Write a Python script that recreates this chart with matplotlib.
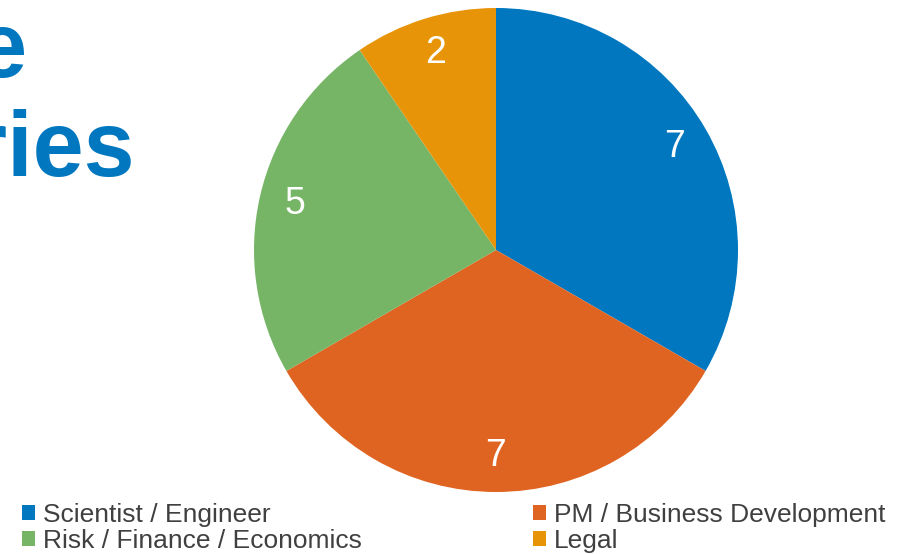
import matplotlib
matplotlib.use("Agg")
import matplotlib.pyplot as plt
from matplotlib.patches import Patch

plt.rcParams['font.family'] = ['Liberation Sans', 'DejaVu Sans']

categories = ["Scientist / Engineer", "PM / Business Development", "Risk / Finance / Economics", "Legal"]
values = [7, 7, 5, 2]
colors = ["#0077BF", "#E06421", "#76B566", "#E89408"]
title_lines = ["Employee", "Categories"]

W, H = 912, 554
fig = plt.figure(figsize=(W / 100, H / 100), dpi=100)

cx, cy, r = 496, 250, 242
ax = fig.add_axes([(cx - r) / W, (H - cy - r) / H, 2 * r / W, 2 * r / H])
wedges, texts = ax.pie(values, colors=colors, startangle=90, counterclock=False,
                       labels=[str(v) for v in values], labeldistance=0.85,
                       wedgeprops=dict(linewidth=0),
                       textprops=dict(color="white", fontsize=27, ha="center", va="center"))
for w in wedges:
    w.set_clip_on(False)
ax.set_xlim(-1, 1)
ax.set_ylim(-1, 1)
ax.set_aspect("equal")
ax.axis("off")

# Title (partially off-canvas, as in the reference)
fig.text(28 / W, 1 - 77 / H, title_lines[0], color="#0077BF", fontsize=66,
         fontweight="bold", ha="right", va="baseline")
fig.text(135 / W, 1 - 176 / H, title_lines[1], color="#0077BF", fontsize=66,
         fontweight="bold", ha="right", va="baseline")

# Legend in two columns
def make_handles(idx):
    return [Patch(facecolor=colors[i], edgecolor="none") for i in idx]

common = dict(frameon=False, fontsize=19, handlelength=0.5, handleheight=0.5,
              handletextpad=0.3, labelspacing=0.08, borderpad=0, borderaxespad=0,
              loc="upper left", labelcolor="#404040")
leg1 = fig.legend(make_handles([0, 2]), [categories[0], categories[2]],
                  bbox_to_anchor=(22 / W, 1 - 503 / H), **common)
leg2 = fig.legend(make_handles([1, 3]), [categories[1], categories[3]],
                  bbox_to_anchor=(533 / W, 1 - 503 / H), **common)

fig.savefig("out.png", dpi=100)
